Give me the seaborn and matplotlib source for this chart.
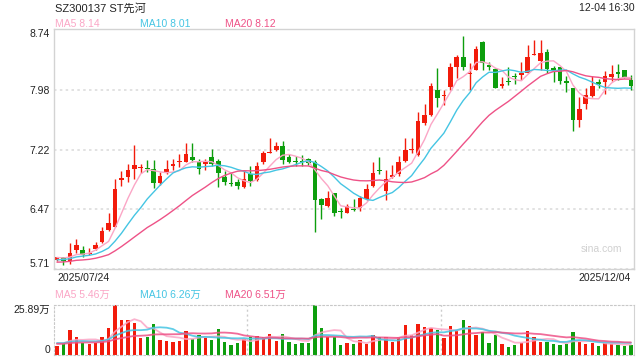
import numpy as np
import pandas as pd
import matplotlib as mpl
import matplotlib.pyplot as plt
import seaborn as sns

sns.set_style('white')
plt.rcParams['font.family'] = ['Liberation Sans', 'Noto Sans CJK SC', 'DejaVu Sans']
mpl.rcParams['axes.unicode_minus'] = False

# daily K-line, 2025/07/24 .. 2025/12/04 (90 sessions)
opens = [5.83, 5.86, 5.81, 5.95, 5.96, 5.90, 5.97, 6.05, 6.21, 6.25,
         6.84, 6.88, 6.98, 6.99, 6.99, 6.98, 6.80, 6.94, 7.02, 7.06,
         7.07, 7.13, 7.07, 7.04, 7.13, 7.08, 6.88, 6.80, 6.81, 6.75,
         6.91, 6.84, 7.06, 7.18, 7.21, 7.27, 7.13, 7.08, 7.07, 7.10,
         7.06, 6.60, 6.51, 6.67, 6.44, 6.42, 6.47, 6.49, 6.60, 6.76,
         6.97, 6.70, 6.88, 6.91, 7.08, 7.22, 7.15, 7.56, 7.66, 7.98,
         7.90, 8.01, 8.26, 8.39, 8.18, 8.23, 8.58, 8.29, 8.24, 8.02,
         8.09, 8.15, 8.16, 8.19, 8.42, 8.34, 8.45, 8.25, 8.26, 8.09,
         8.00, 7.59, 7.80, 7.90, 8.08, 8.07, 8.14, 8.20, 8.23, 8.10]
highs = [5.87, 5.86, 6.04, 6.09, 6.00, 5.98, 6.05, 6.25, 6.42, 6.85,
         6.95, 7.04, 7.28, 7.04, 7.09, 7.09, 6.94, 7.09, 7.10, 7.16,
         7.30, 7.30, 7.10, 7.10, 7.23, 7.10, 6.95, 6.93, 6.85, 6.96,
         7.02, 7.07, 7.20, 7.37, 7.32, 7.33, 7.17, 7.14, 7.15, 7.12,
         7.09, 6.61, 6.70, 6.67, 6.49, 6.53, 6.60, 6.63, 6.79, 7.07,
         7.13, 6.97, 7.03, 7.14, 7.37, 7.37, 7.69, 7.80, 8.06, 8.25,
         7.98, 8.32, 8.42, 8.65, 8.31, 8.53, 8.59, 8.33, 8.25, 8.14,
         8.26, 8.19, 8.33, 8.54, 8.60, 8.60, 8.49, 8.28, 8.27, 8.15,
         8.00, 7.88, 8.00, 8.15, 8.11, 8.21, 8.29, 8.30, 8.23, 8.16]
lows = [5.82, 5.77, 5.78, 5.92, 5.86, 5.89, 5.95, 6.04, 6.19, 6.25,
        6.76, 6.81, 6.85, 6.93, 6.94, 6.74, 6.78, 6.91, 6.97, 7.00,
        7.06, 7.07, 6.91, 6.97, 7.02, 6.75, 6.78, 6.76, 6.73, 6.74,
        6.76, 6.82, 7.04, 7.18, 7.20, 7.04, 7.05, 7.01, 7.01, 7.03,
        6.18, 6.34, 6.50, 6.38, 6.36, 6.42, 6.44, 6.44, 6.58, 6.75,
        6.91, 6.59, 6.86, 6.89, 7.07, 7.18, 7.14, 7.53, 7.64, 7.76,
        7.79, 7.98, 8.12, 8.23, 7.97, 8.22, 8.23, 8.23, 8.00, 8.00,
        8.04, 8.05, 8.10, 8.19, 8.42, 8.23, 8.19, 8.08, 8.05, 7.95,
        7.46, 7.51, 7.74, 7.89, 8.00, 7.92, 8.09, 8.10, 8.12, 7.97]
closes = [5.86, 5.82, 5.92, 6.02, 5.89, 5.92, 6.02, 6.19, 6.29, 6.72,
          6.86, 6.97, 7.03, 7.00, 6.98, 6.80, 6.89, 6.98, 7.04, 7.07,
          7.16, 7.09, 6.98, 7.07, 7.04, 6.93, 6.81, 6.79, 6.76, 6.85,
          6.82, 7.02, 7.18, 7.19, 7.27, 7.09, 7.07, 7.07, 7.06, 7.05,
          6.58, 6.52, 6.61, 6.42, 6.43, 6.51, 6.46, 6.61, 6.73, 6.93,
          6.95, 6.85, 6.90, 7.06, 7.21, 7.23, 7.58, 7.66, 8.02, 7.87,
          7.91, 8.27, 8.39, 8.27, 8.19, 8.49, 8.31, 8.26, 8.00, 8.05,
          8.07, 8.14, 8.19, 8.39, 8.43, 8.44, 8.24, 8.21, 8.09, 8.06,
          7.59, 7.73, 7.91, 8.03, 8.05, 8.15, 8.17, 8.17, 8.13, 8.03]
# volume, 万股
volumes = [4.66, 6.04, 12.95, 9.15, 6.39, 5.70, 6.04, 9.15, 13.98, 25.89,
           18.12, 18.12, 16.57, 8.63, 9.15, 16.05, 7.77, 7.08, 6.73, 7.25,
           12.43, 8.28, 10.18, 8.80, 7.77, 13.46, 6.73, 5.18, 6.21, 8.28,
           9.15, 9.84, 9.49, 10.87, 7.25, 10.87, 6.73, 5.70, 6.39, 6.39,
           25.70, 14.15, 9.15, 9.15, 5.18, 6.39, 5.70, 7.77, 5.70, 10.36,
           9.15, 9.15, 6.90, 9.15, 15.53, 10.36, 16.05, 14.50, 13.81, 12.95,
           8.98, 15.02, 12.60, 18.12, 15.02, 10.36, 12.08, 6.39, 10.36, 5.70,
           4.32, 5.18, 6.39, 12.43, 9.15, 6.90, 6.90, 5.70, 5.18, 5.70,
           12.08, 6.90, 5.70, 6.39, 4.66, 6.39, 5.70, 5.18, 4.66, 5.18]

# sessions before the window, only used to seed the moving averages
# (estimated from where the MA lines start on the left edge)
prior_closes = [5.75, 5.78, 5.76, 5.79, 5.77, 5.74, 5.78, 5.80, 5.76, 5.77,
                5.79, 5.81, 5.80, 5.78, 5.82, 5.85, 5.87, 5.86, 5.86]
prior_volumes = [5.2, 4.8, 5.6, 5.0, 4.9, 5.4, 6.1, 5.3, 5.8, 5.5,
                 6.2, 5.9, 6.4, 5.7, 6.8, 6.3, 7.1, 5.9, 6.6]

price_ticks = [5.71, 6.47, 7.22, 7.98, 8.74]
price_tick_labels = ['5.71', '6.47', '7.22', '7.98', '8.74']
vol_ticks = [0, 25.89]
vol_tick_labels = ['0', '25.89万']
date_labels = ['2025/07/24', '2025/12/04']

df = pd.DataFrame(dict(open=opens, high=highs, low=lows, close=closes, vol=volumes))
df['i'] = np.arange(len(df))
all_close = pd.Series(prior_closes + closes)
all_vol = pd.Series(prior_volumes + volumes)
k = len(prior_closes)
for n in (5, 10, 20):
    df[f'ma{n}'] = all_close.rolling(n, min_periods=1).mean().iloc[k:].to_numpy()
    df[f'vma{n}'] = all_vol.rolling(n, min_periods=1).mean().iloc[k:].to_numpy()

RED, GREEN = '#f21b0b', '#0d9e0d'
MA_COLORS = {5: '#fba6c6', 10: '#45c5e3', 20: '#ee5287'}
GRID = '#dddddd'
colors = np.where(df['close'] >= df['open'], RED, GREEN)

fig = plt.figure(figsize=(6.4, 3.6), dpi=100)
ax = fig.add_axes([0.0848, 0.2519, 0.906, 0.6667])
axv = fig.add_axes([0.0848, 0.0139, 0.906, 0.1389])

# candles
ax.vlines(df['i'], df['low'], df['high'], colors=colors, lw=1, zorder=1)
body = (df['close'] - df['open']).abs().clip(lower=0.013)
ax.bar(df['i'], body, bottom=df[['open', 'close']].min(axis=1), width=0.72,
       color=colors, lw=0, zorder=1)
for n in (5, 10, 20):
    sns.lineplot(x='i', y=f'ma{n}', data=df, ax=ax, color=MA_COLORS[n], lw=1, zorder=3)

ax.set_xlim(-0.42, 89.5)
ax.set_ylim(price_ticks[0], price_ticks[-1])
ax.set_yticks(price_ticks)
ax.set_yticklabels(price_tick_labels)
ax.set_xticks([0, 89])
ax.set_xticklabels(date_labels)
ax.set_xlabel('')
ax.set_ylabel('')
ax.grid(axis='y', ls=(0, (1.5, 2)), color=GRID, lw=1.2)
ax.tick_params(length=0, labelsize=7.5, colors='#222222', pad=3)
yl = ax.get_yticklabels()
yl[0].set_va('bottom')
yl[-1].set_va('top')
xl = ax.get_xticklabels()
xl[0].set_ha('left')
xl[-1].set_ha('right')
for s in ax.spines.values():
    s.set_color('#d3d3d3')
    s.set_linewidth(1)
ax.text(0.98, 0.085, 'sina.com', transform=ax.transAxes, ha='right', va='center',
        fontsize=7.5, color='#d0d0d0')

# volume
axv.bar(df['i'], df['vol'], width=0.52, color=colors, lw=0, zorder=1)
for n in (5, 10, 20):
    sns.lineplot(x='i', y=f'vma{n}', data=df, ax=axv, color=MA_COLORS[n], lw=1.3,
                 alpha=0.85, zorder=3)
axv.set_xlim(-0.42, 89.5)
axv.set_ylim(0, 25.89)
axv.set_yticks(vol_ticks)
axv.set_yticklabels(vol_tick_labels)
axv.set_xticks([])
axv.set_xlabel('')
axv.set_ylabel('')
axv.tick_params(length=0, labelsize=7.5, colors='#222222', pad=3)
vl = axv.get_yticklabels()
vl[0].set_va('bottom')
vl[-1].set_va('top')
for x in (29.5, 59.5):
    axv.axvline(x, ls=(0, (1.5, 2)), color='#cccccc', lw=1, zorder=0)
for side in ('top', 'bottom', 'left'):
    axv.spines[side].set_linestyle((0, (1.5, 2)))
    axv.spines[side].set_color('#c8c8c8')
axv.spines['right'].set_color('#d3d3d3')

# header texts
fig.text(0.086, 0.978, 'SZ300137 ST先河', fontsize=8, color='#222222', va='center')
fig.text(0.991, 0.978, '12-04 16:30', fontsize=7.5, color='#222222', va='center', ha='right')
for xf, n, val in [(0.086, 5, '8.14'), (0.219, 10, '8.01'), (0.352, 20, '8.12')]:
    fig.text(xf, 0.9325, f'MA{n} {val}', fontsize=7.5, color=MA_COLORS[n], va='center')
for xf, n, val in [(0.086, 5, '5.46万'), (0.219, 10, '6.26万'), (0.352, 20, '6.51万')]:
    fig.text(xf, 0.1806, f'MA{n} {val}', fontsize=7.5, color=MA_COLORS[n], va='center')

fig.savefig('out.png', dpi=100)
